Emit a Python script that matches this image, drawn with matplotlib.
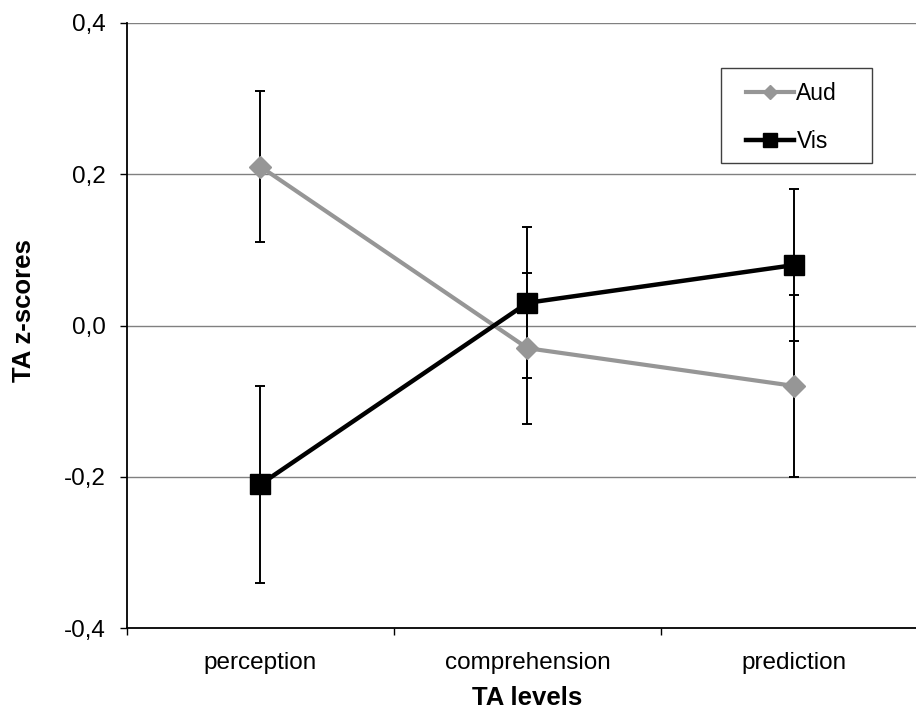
import matplotlib
matplotlib.use("Agg")
import matplotlib.pyplot as plt
from matplotlib.patches import Rectangle
from matplotlib.ticker import FixedLocator, FuncFormatter

plt.rcParams["font.family"] = ["Liberation Sans", "DejaVu Sans"]

# TA z-scores per level, with error bar half-lengths
levels = ["perception", "comprehension", "prediction"]
aud_mean = [0.21, -0.03, -0.08]
aud_err = [0.10, 0.10, 0.12]
vis_mean = [-0.21, 0.03, 0.08]
vis_err = [0.13, 0.10, 0.10]
y_ticks = [-0.4, -0.2, 0.0, 0.2, 0.4]

W, H = 916, 709
fig = plt.figure(figsize=(W / 100, H / 100), dpi=100)
fig.patch.set_facecolor("white")

# plot area in pixels: left 127, right 928 (runs past the edge), top 23, bottom 628
ax = fig.add_axes([127 / W, (H - 628) / H, 801 / W, 605 / H])

x = list(range(len(levels)))
aud_color = "#969696"
vis_color = "#000000"

# error bars under the lines and markers
ax.errorbar(x, aud_mean, yerr=aud_err, fmt="none", ecolor="black",
            elinewidth=1.4, capsize=3.6, capthick=1.4, zorder=3)
ax.errorbar(x, vis_mean, yerr=vis_err, fmt="none", ecolor="black",
            elinewidth=1.4, capsize=3.6, capthick=1.4, zorder=3)

ax.plot(x, aud_mean, color=aud_color, lw=3.0, marker="D", ms=11,
        mfc=aud_color, mec=aud_color, label="Aud", zorder=4)
ax.plot(x, vis_mean, color=vis_color, lw=3.2, marker="s", ms=15,
        mfc=vis_color, mec=vis_color, label="Vis", zorder=5)

ax.set_xlim(-0.5, 2.5)
ax.set_ylim(-0.4, 0.4)

ax.yaxis.set_major_locator(FixedLocator(y_ticks))
ax.yaxis.set_major_formatter(FuncFormatter(lambda v, p: f"{v:.1f}".replace(".", ",")))
ax.tick_params(axis="y", direction="out", length=5, width=1.0, pad=10,
               labelsize=17.5, colors="black")

ax.set_xticks(x)
ax.set_xticklabels(levels)
ax.set_xticks([-0.5, 0.5, 1.5], minor=True)
ax.tick_params(axis="x", which="major", length=0, pad=17, labelsize=17.5)
ax.tick_params(axis="x", which="minor", direction="out", length=5, width=1.0)

for v in y_ticks[1:]:
    ax.axhline(v, color="#808080", lw=1.0, zorder=1)

for side in ("top", "right"):
    ax.spines[side].set_visible(False)
for side in ("left", "bottom"):
    ax.spines[side].set_color("black")
    ax.spines[side].set_linewidth(1.3)

ax.set_ylabel("TA z-scores", fontsize=18.5, fontweight="bold")
ax.yaxis.set_label_coords((36 - 127) / 801, (628 - 311) / 605)
ax.set_xlabel("TA levels", fontsize=18.5, fontweight="bold", labelpad=9)

# legend box with its own frame
fig.patches.append(Rectangle((721 / W, (H - 163) / H), 151 / W, 95 / H,
                             transform=fig.transFigure, facecolor="white",
                             edgecolor="#404040", lw=1.0, zorder=6))
leg = fig.legend(loc="upper left", bbox_to_anchor=(746 / W, (H - 82) / H),
                 frameon=False, fontsize=16.5, handlelength=2.1, handletextpad=0.1,
                 labelspacing=1.1, borderpad=0, borderaxespad=0, markerscale=0.65)
leg.set_zorder(7)

fig.savefig("out.png", dpi=100)
